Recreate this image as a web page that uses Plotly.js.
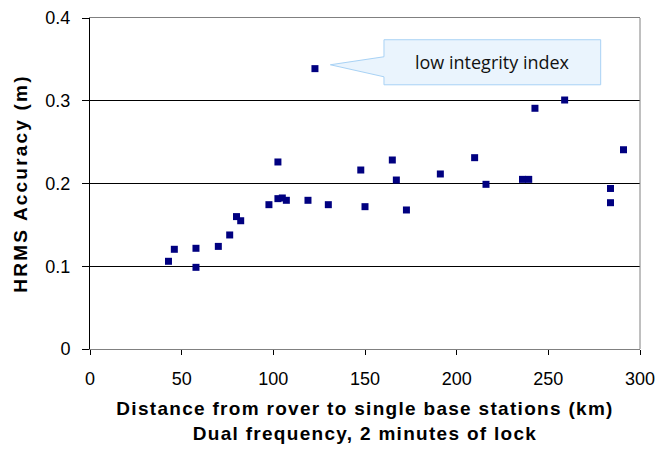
<!DOCTYPE html>
<html>
<head>
<meta charset="utf-8">
<script src="https://cdn.plot.ly/plotly-3.0.1.min.js"></script>
<style>
html,body{margin:0;padding:0;background:#fff;}
#chart{width:657px;height:452px;}
.xtitle{letter-spacing:1.3px;}
.ytitle{letter-spacing:2.2px;}
</style>
</head>
<body>
<div id="chart"></div>
<script>
// Distance from rover to base station (km)
const distanceKm = [42.8, 46.0, 57.8, 57.8, 70.0, 76.2, 79.9, 82.2, 97.6, 102.5, 102.5, 104.9, 107.1, 118.9,
  122.7, 130.0, 147.7, 150.0, 164.9, 167.1, 172.6, 191.1, 209.8, 216.0, 235.9, 239.3, 242.7, 258.9,
  283.9, 283.9, 291.0];
// HRMS accuracy (m)
const hrmsAccuracy = [0.106, 0.1205, 0.1217, 0.0987, 0.124, 0.1378, 0.160, 0.155, 0.1744, 0.226, 0.1817, 0.1825, 0.1797, 0.1797,
  0.3388, 0.1744, 0.2163, 0.172, 0.2284, 0.2042, 0.168, 0.2115, 0.2312, 0.199, 0.205, 0.205, 0.2909, 0.3009,
  0.194, 0.1768, 0.2408];
const xTicks = [0, 50, 100, 150, 200, 250, 300];
const yTicks = [0, 0.1, 0.2, 0.3, 0.4];
const yTickText = ['0', '0.1', '0.2', '0.3', '0.4'];
const calloutText = 'low integrity index';

// Callout geometry in paper coordinates
const bx0 = 0.5345, bx1 = 0.9285, by0 = 0.7982, by1 = 0.9343;
const tipX = 0.437, tipY = 0.8587, w0 = 0.8224, w1 = 0.8829;

const trace = {
  x: distanceKm, y: hrmsAccuracy, type: 'scatter', mode: 'markers',
  marker: {symbol: 'square', size: 7, color: '#000080', line: {width: 0}},
  hoverinfo: 'x+y', showlegend: false
};

const fam = 'Liberation Sans, Arial, sans-serif';

const layout = {
  width: 657, height: 452,
  margin: {l: 90.3, r: 16.7, t: 18.3, b: 103.3},
  paper_bgcolor: '#fff', plot_bgcolor: '#fff',
  font: {family: fam, color: '#000'},
  xaxis: {
    range: [0, 300], tickvals: xTicks, ticks: 'outside', ticklen: 5, tickcolor: '#000',
    showgrid: false, zeroline: false, showline: true, linecolor: '#808080', linewidth: 1, mirror: true,
    tickfont: {size: 18, family: fam, color: '#000'}, ticklabelstandoff: 8,
    title: {text: '<b>Distance from rover to single base stations (km)<br>Dual frequency, 2 minutes of lock</b>',
      font: {size: 19, family: fam, color: '#000'}, standoff: 14}
  },
  yaxis: {
    range: [0, 0.4], tickvals: yTicks, ticktext: yTickText, ticks: 'outside', ticklen: 7, tickcolor: '#000',
    showgrid: true, gridcolor: '#000', gridwidth: 1, zeroline: false,
    showline: true, linecolor: '#000', linewidth: 1,
    tickfont: {size: 18, family: fam, color: '#000'}, ticklabelstandoff: 8,
    title: {text: '<b>HRMS Accuracy (m)</b>', font: {size: 19, family: fam, color: '#000'}, standoff: 12}
  },
  shapes: [
    {type: 'line', xref: 'paper', yref: 'paper', x0: 1, x1: 1, y0: 0, y1: 1, line: {color: '#808080', width: 1}},
    {type: 'path', xref: 'paper', yref: 'paper',
      path: `M ${bx0} ${by1} L ${bx1} ${by1} L ${bx1} ${by0} L ${bx0} ${by0} L ${bx0} ${w0} L ${tipX} ${tipY} L ${bx0} ${w1} Z`,
      fillcolor: '#eaf4fd', line: {color: '#a8d2f5', width: 1}}
  ],
  annotations: [
    {xref: 'paper', yref: 'paper', x: (bx0 + bx1) / 2, y: (by0 + by1) / 2, text: calloutText, showarrow: false,
      xanchor: 'center', yanchor: 'middle', font: {family: 'Open Sans, sans-serif', size: 18, color: '#111'}}
  ]
};

Plotly.newPlot('chart', [trace], layout, {displayModeBar: false, staticPlot: true});
</script>
</body>
</html>
